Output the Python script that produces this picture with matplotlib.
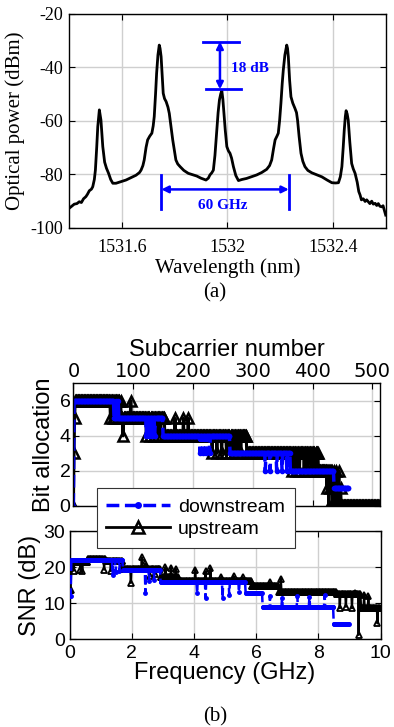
import numpy as np
import matplotlib
matplotlib.use("Agg")
import matplotlib.pyplot as plt
from matplotlib.lines import Line2D

plt.rcParams["axes.unicode_minus"] = False

# ---------------- (a) optical spectrum ----------------
wavelength_nm = [
    1531.400, 1531.410, 1531.420, 1531.430, 1531.439, 1531.447, 1531.455, 1531.464, 1531.470, 1531.477,
    1531.485, 1531.490, 1531.496, 1531.500, 1531.505, 1531.509, 1531.515, 1531.521, 1531.528, 1531.535,
    1531.542, 1531.550, 1531.558, 1531.566, 1531.578, 1531.600, 1531.616, 1531.635, 1531.654, 1531.667,
    1531.673, 1531.680, 1531.685, 1531.692, 1531.698, 1531.706, 1531.714, 1531.719, 1531.723, 1531.728,
    1531.732, 1531.737, 1531.742, 1531.745, 1531.749, 1531.753, 1531.757, 1531.762, 1531.768, 1531.775,
    1531.780, 1531.786, 1531.793, 1531.800, 1531.805, 1531.812, 1531.821, 1531.835, 1531.852, 1531.868,
    1531.884, 1531.900, 1531.919, 1531.928, 1531.934, 1531.941, 1531.947, 1531.953, 1531.960, 1531.965,
    1531.970, 1531.975, 1531.979, 1531.983, 1531.987, 1531.992, 1531.998, 1532.004, 1532.010, 1532.016,
    1532.023, 1532.032, 1532.042, 1532.055, 1532.073, 1532.090, 1532.111, 1532.130, 1532.149, 1532.160,
    1532.168, 1532.175, 1532.181, 1532.188, 1532.193, 1532.198, 1532.203, 1532.208, 1532.212, 1532.218,
    1532.225, 1532.228, 1532.231, 1532.236, 1532.241, 1532.248, 1532.256, 1532.262, 1532.266, 1532.272,
    1532.279, 1532.286, 1532.294, 1532.305, 1532.320, 1532.340, 1532.358, 1532.378, 1532.396, 1532.410,
    1532.421, 1532.428, 1532.434, 1532.439, 1532.443, 1532.447, 1532.450, 1532.454, 1532.458, 1532.464,
    1532.471, 1532.477, 1532.484, 1532.492, 1532.498, 1532.503, 1532.508, 1532.515, 1532.522, 1532.528,
    1532.534, 1532.540, 1532.547, 1532.553, 1532.560, 1532.566, 1532.572, 1532.578, 1532.585, 1532.590,
    1532.595, 1532.600]
power_dbm = [
    -92.8, -92.0, -91.2, -91.0, -90.3, -90.6, -89.2, -88.4, -87.5, -86.2,
    -85.6, -84.7, -82.0, -78.5, -70.0, -62.3, -56.0, -59.8, -69.7, -75.5,
    -77.8, -79.7, -82.0, -83.4, -83.4, -82.7, -82.2, -81.3, -80.4, -79.4,
    -78.5, -76.8, -74.7, -70.0, -67.2, -65.8, -64.7, -62.0, -58.5, -50.0,
    -42.3, -35.5, -31.8, -33.0, -36.1, -43.0, -49.8, -51.8, -52.9, -55.0,
    -57.3, -62.0, -67.2, -71.5, -74.7, -76.2, -77.2, -78.6, -79.7, -80.2,
    -80.7, -81.5, -82.2, -81.5, -80.3, -79.5, -78.5, -73.0, -63.5, -57.0,
    -52.3, -50.0, -48.8, -52.0, -57.3, -63.5, -69.7, -71.3, -72.2, -74.0,
    -77.2, -80.5, -82.4, -82.0, -81.6, -81.0, -80.3, -79.4, -78.2, -76.8,
    -74.7, -70.5, -67.2, -65.8, -64.7, -60.0, -53.5, -46.0, -41.1, -35.5,
    -31.8, -33.0, -36.1, -45.0, -51.1, -53.5, -55.4, -57.0, -59.8, -66.0,
    -72.2, -75.2, -77.2, -78.6, -79.5, -80.3, -81.0, -82.2, -83.2, -83.3,
    -83.2, -81.0, -77.2, -70.0, -63.5, -58.5, -56.3, -57.5, -59.8, -68.0,
    -76.0, -78.0, -79.7, -83.0, -86.5, -87.8, -89.6, -89.2, -90.2, -89.6,
    -90.3, -91.0, -90.1, -91.2, -90.9, -91.7, -91.0, -92.0, -92.2, -91.8,
    -93.5, -95.3]

wl_ticks = [1531.6, 1532.0, 1532.4]
wl_ticklabels = ["1531.6", "1532", "1532.4"]
dbm_ticks = [-100, -80, -60, -40, -20]

# ---------------- (b) bit allocation / SNR ----------------
N_UP = 512
N_DN = 461

up_bit_start = [0, 1, 2, 3, 80, 153, 290, 410, 433]
up_bit_level = [0, 3, 5, 6, 5, 4, 3, 2, 0]
up_bit_idx = [62, 66, 70, 74, 78, 83, 96, 122, 128, 134, 140, 146, 170, 184, 192,
              232, 240, 248, 256, 262, 268, 274, 280, 366, 372, 378, 386, 392, 398, 404,
              424, 427, 430, 436, 440, 444, 447]
up_bit_val = [5, 5, 5, 5, 5, 4, 6, 4, 4, 4, 4, 4, 5, 5, 5,
              3, 3, 3, 3, 3, 3, 3, 3, 2, 2, 2, 2, 2, 2, 2,
              1, 0, 1, 2, 2, 2, 1]

dn_bit_start = [0, 1, 68, 150, 262, 363, 436]
dn_bit_level = [0, 6, 5, 4, 3, 2, 1]
dn_bit_idx = [72, 75, 122, 126, 131, 136, 212, 217, 222, 228, 321, 329, 340, 349, 357]
dn_bit_val = [6, 6, 4, 4, 4, 4, 3, 3, 3, 3, 2, 2, 2, 2, 2]

up_snr_start = [0, 3, 30, 60, 88, 150, 180, 300, 345, 440, 480]
up_snr_level = [13.7, 21.5, 22.3, 21.6, 19.5, 17.3, 16.2, 14.8, 13.0, 12.6, 8.6]
up_snr_idx = [7, 18, 21, 57, 68, 84, 101, 119, 125, 132, 140, 158, 167, 175,
              207, 224, 232, 250, 270, 285, 330, 348, 445, 455, 465, 470, 476, 485, 492, 507]
up_snr_val = [19.0, 19.2, 18.8, 19.3, 18.9, 19.5, 15.6, 22.7, 21.0, 17.5, 18.0, 20.0, 19.8, 19.5,
              19.3, 18.8, 19.7, 17.3, 17.5, 17.2, 15.8, 16.8, 8.6, 9.0, 8.6, 12.8, 1.2, 12.3, 12.0, 4.4]

dn_snr_start = [0, 3, 88, 150, 290, 318, 435]
dn_snr_level = [11.9, 22.0, 19.3, 15.8, 12.8, 9.0, 4.2]
dn_snr_idx = [71, 76, 82, 125, 131, 139, 210, 224, 252, 263, 279, 330, 350, 375, 395, 420]
dn_snr_val = [17.9, 18.5, 19.0, 12.8, 16.0, 16.5, 12.8, 11.4, 11.4, 12.3, 13.2, 12.0, 11.5, 12.0, 11.8, 12.2]

BANDWIDTH_GHZ = 10.0


def expand(starts, levels, idx, vals, n):
    arr = np.empty(n)
    bounds = list(starts) + [n]
    for s, e, v in zip(bounds[:-1], bounds[1:], levels):
        arr[s:e] = v
    for i, v in zip(idx, vals):
        if i < n:
            arr[i] = v
    return arr


up_bits = expand(up_bit_start, up_bit_level, up_bit_idx, up_bit_val, N_UP)
dn_bits = expand(dn_bit_start, dn_bit_level, dn_bit_idx, dn_bit_val, N_DN)
up_snr = expand(up_snr_start, up_snr_level, up_snr_idx, up_snr_val, N_UP)
dn_snr = expand(dn_snr_start, dn_snr_level, dn_snr_idx, dn_snr_val, N_DN)
sc_up = np.arange(N_UP)
sc_dn = np.arange(N_DN)
f_up = sc_up * BANDWIDTH_GHZ / N_UP
f_dn = sc_dn * BANDWIDTH_GHZ / N_UP

BLUE = "#0000ff"
GRID = "#cfcfcf"
SERIF = "Liberation Serif"
SANS = "Liberation Sans"

W, H = 394, 727
fig = plt.figure(figsize=(W / 100, H / 100), dpi=100)


def rect(l, t, r, b):
    return [l / W, 1 - b / H, (r - l) / W, (b - t) / H]


def style(ax, fs, family):
    ax.grid(True, color=GRID, lw=1.0)
    ax.set_axisbelow(True)
    ax.tick_params(direction="in", top=True, right=True, length=4, width=0.8,
                   labelsize=fs, pad=4)
    for lab in ax.get_xticklabels() + ax.get_yticklabels():
        lab.set_family(family)
    for sp in ax.spines.values():
        sp.set_linewidth(1.0)


# ---- panel (a)
axa = fig.add_axes(rect(69, 13.5, 385.7, 227.7))
axa.plot(wavelength_nm, power_dbm, color="k", lw=2.0)
axa.set_xlim(1531.4, 1532.6)
axa.set_ylim(-100, -20)
axa.set_xticks(wl_ticks)
axa.set_xticklabels(wl_ticklabels)
axa.set_yticks(dbm_ticks)
style(axa, 13, SERIF)
axa.tick_params(axis="x", pad=8)
axa.set_xlabel("Wavelength (nm)", family=SERIF, fontsize=15, labelpad=2)
axa.set_ylabel("Optical power (dBm)", family=SERIF, fontsize=15, labelpad=4)

# 18 dB annotation
axa.plot([1531.909, 1532.046], [-30.5, -30.5], color=BLUE, lw=2)
axa.plot([1531.919, 1532.053], [-48.3, -48.3], color=BLUE, lw=2)
axa.annotate("", xy=(1531.972, -30.5), xytext=(1531.972, -48.3),
             arrowprops=dict(arrowstyle="<|-|>", color=BLUE, lw=1.8,
                             mutation_scale=10, shrinkA=0, shrinkB=0))
axa.text(1532.015, -40.5, "18 dB", color=BLUE, family=SERIF, fontsize=11,
         fontweight="bold", ha="left", va="center")
# 60 GHz annotation
axa.plot([1531.750, 1531.750], [-80.3, -93.1], color=BLUE, lw=2)
axa.plot([1532.233, 1532.233], [-80.3, -93.1], color=BLUE, lw=2)
axa.annotate("", xy=(1531.750, -85.7), xytext=(1532.233, -85.7),
             arrowprops=dict(arrowstyle="<|-|>", color=BLUE, lw=1.8,
                             mutation_scale=10, shrinkA=0, shrinkB=0))
axa.text(1531.983, -91.8, "60 GHz", color=BLUE, family=SERIF, fontsize=11,
         fontweight="bold", ha="center", va="center")

fig.text(215 / W, 1 - 293 / H, "(a)", family=SERIF, fontsize=15, ha="center", va="center")

# ---- panel (b) bit allocation
axb = fig.add_axes(rect(73.4, 383.3, 379.5, 506.0))
axb.plot(sc_up, up_bits, "-", marker="^", color="k", mfc="none", ms=7.5, mew=1.8, lw=2.2, zorder=3)
axb.plot(sc_dn, dn_bits, "--", marker=".", color=BLUE, ms=6, lw=2.5, zorder=4)
axb.set_xlim(0, 512)
axb.set_ylim(0, 7)
axb.set_xticks([0, 100, 200, 300, 400, 500])
axb.set_yticks([0, 2, 4, 6])
style(axb, 14, SANS)
axb.tick_params(labeltop=True, labelbottom=False, pad=2)
axb.xaxis.set_label_position("top")
axb.set_xlabel("Subcarrier number", family=SANS, fontsize=17, labelpad=4)
axb.set_ylabel("Bit allocation", family=SANS, fontsize=17, labelpad=3)
for sp in axb.spines.values():
    sp.set_zorder(5)

# ---- panel (b) SNR
axs = fig.add_axes(rect(69.5, 531.0, 380.5, 639.2))
axs.plot(f_up, up_snr, "-", marker="^", color="k", mfc="none", ms=4, mew=1.3, lw=1.6, zorder=3)
axs.plot(f_dn, dn_snr, "--", marker=".", color=BLUE, ms=5, lw=1.8, zorder=4)
axs.set_xlim(0, 10)
axs.set_ylim(0, 30)
axs.set_xticks([0, 2, 4, 6, 8, 10])
axs.set_yticks([0, 10, 20, 30])
style(axs, 14, SANS)
axs.tick_params(axis="x", pad=4)
axs.tick_params(axis="y", pad=3)
axs.set_xlabel("Frequency (GHz)", family=SANS, fontsize=17, labelpad=0)
axs.set_ylabel("SNR (dB)", family=SANS, fontsize=17, labelpad=2)

handles = [
    Line2D([], [], color=BLUE, ls="--", marker=".", ms=8, lw=2.5),
    Line2D([], [], color="k", ls="-", marker="^", mfc="none", ms=8, mew=1.8, lw=2.0),
]
leg = fig.legend(handles, ["downstream", "upstream"], loc="upper left",
                 bbox_to_anchor=(96.7 / W, 1 - 488.3 / H), borderaxespad=0,
                 prop={"family": SANS, "size": 14}, handlelength=3.25,
                 handletextpad=0.43, borderpad=0.5, labelspacing=0.25,
                 fancybox=False, framealpha=1, edgecolor="#333333")
leg.get_frame().set_linewidth(0.8)

fig.text(215 / W, 1 - 716.7 / H, "(b)", family=SERIF, fontsize=15, ha="center", va="center")

fig.savefig("out.png", dpi=100)
